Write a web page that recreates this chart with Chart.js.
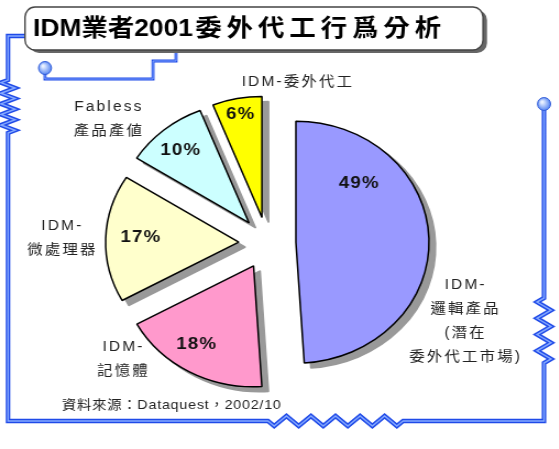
<!DOCTYPE html>
<html>
<head>
<meta charset="utf-8">
<title>IDM業者2001委外代工行爲分析</title>
<script src="https://cdn.jsdelivr.net/npm/chart.js@4"></script>
<style>
  html, body { margin: 0; padding: 0; background: #fff; overflow: hidden; }
  /* the original picture is a little wider than tall, so stretch the canvas */
  #wrap { width: 508px; height: 449px; transform: scaleX(1.1); transform-origin: 0 0; }
</style>
</head>
<body>
<div id="wrap"><canvas id="pieChart" width="508" height="449"></canvas></div>
<script>
// ---- data ----
const titleBold = "IDM業者2001";
const titleRest = "委外代工行爲分析";
const sourceNote = "資料來源：Dataquest，2002/10";
const categories = [
  ["IDM-", "邏輯產品", "(潛在", "委外代工市場)"],
  ["IDM-", "記憶體"],
  ["IDM-", "微處理器"],
  ["Fabless", "產品產値"],
  ["IDM-委外代工"]
];
const shares = [49, 18, 17, 10, 6];
const sliceColors = ["#9999ff", "#ff99cc", "#ffffcc", "#ccffff", "#ffff00"];

const SX = 1.1;       // horizontal stretch of the page
const EXPLODE = 26;   // how far every slice is pulled out
const textFont = '"Liberation Sans", "Noto Sans CJK TC", sans-serif';

// where the texts sit, relative to pie centre, in units of radius
const pctSpots = [[0.69, -0.49], [-0.53, 0.84], [-0.95, -0.05], [-0.65, -0.77], [-0.2, -1.06]];
const nameSpots = [[1.49, 0.35], [-1.08, 0.86], [-1.54, -0.14], [-1.19, -1.12], [0.23, -1.33]];

function zig(pts, x0, y0, x1, y1, n, amp) {
  // zigzag (resistor) from x0,y0 to x1,y1
  const dx = x1 - x0, dy = y1 - y0;
  const len = Math.hypot(dx, dy);
  const nx = -dy / len, ny = dx / len;
  pts.push([x0, y0]);
  for (let i = 0; i < n; i++) {
    const t = (i + 0.5) / n;
    const s = i % 2 === 0 ? 1 : -1;
    pts.push([x0 + dx * t + nx * amp * s, y0 + dy * t + ny * amp * s]);
  }
  pts.push([x1, y1]);
}

function strokeWire(ctx, pts, w) {
  ctx.beginPath();
  pts.forEach((p, i) => i ? ctx.lineTo(p[0], p[1]) : ctx.moveTo(p[0], p[1]));
  ctx.lineJoin = "miter";
  ctx.strokeStyle = "#1f4ae8";
  ctx.lineWidth = w;
  ctx.stroke();
  ctx.strokeStyle = "#86aaff";
  ctx.lineWidth = w / 3;
  ctx.stroke();
}

function node(ctx, x, y) {
  const g = ctx.createRadialGradient(x - 2, y - 2, 1, x, y, 7);
  g.addColorStop(0, "#e8f0ff");
  g.addColorStop(1, "#4d7ff2");
  ctx.beginPath();
  ctx.arc(x, y, 6.5, 0, Math.PI * 2);
  ctx.fillStyle = g;
  ctx.fill();
  ctx.strokeStyle = "#2a56d6";
  ctx.lineWidth = 1;
  ctx.stroke();
}

function sliceShift(arc) {
  const mid = (arc.startAngle + arc.endAngle) / 2;
  return [Math.cos(mid) * EXPLODE, Math.sin(mid) * EXPLODE];
}

const decoPlugin = {
  id: "deco",
  beforeDraw(chart) {
    const ctx = chart.ctx;
    ctx.save();
    ctx.fillStyle = "#fff";
    ctx.fillRect(0, 0, chart.width, chart.height);
    ctx.scale(1 / SX, 1);

    // outer circuit
    const main = [[25, 36], [8, 36], [8, 80]];
    zig(main, 8, 80, 8, 133, 10, 7);
    main.push([8, 421], [268, 421]);
    zig(main, 268, 421, 403, 421, 11, 5);
    main.push([544, 421], [544, 363]);
    zig(main, 544, 363, 544, 298, 8, 7);
    main.push([544, 106]);
    strokeWire(ctx, main, 4.5);
    node(ctx, 544, 104);

    // small wire under the title
    strokeWire(ctx, [[45, 68], [45, 79], [153, 79], [153, 61], [176, 61], [176, 50]], 3);
    node(ctx, 45, 68);

    // title box
    ctx.beginPath();
    ctx.roundRect(29, 10, 458, 43, 10);
    ctx.fillStyle = "#666";
    ctx.fill();
    ctx.beginPath();
    ctx.roundRect(25, 7, 458, 43, 10);
    ctx.fillStyle = "#fff";
    ctx.fill();
    ctx.strokeStyle = "#444";
    ctx.lineWidth = 1.5;
    ctx.stroke();
    ctx.restore();

    ctx.save();
    ctx.fillStyle = "#000";
    ctx.textBaseline = "middle";
    ctx.font = "bold 24px " + textFont;
    const x0 = 33 / SX;
    ctx.fillText(titleBold, x0, 29);
    const w = ctx.measureText(titleBold).width;
    ctx.letterSpacing = "4.5px";
    ctx.fillText(titleRest, x0 + w + 2, 29);
    ctx.restore();
  },
  // draw the slices pulled apart, flat grey shadows first
  beforeDatasetDraw(chart, args) {
    const ctx = chart.ctx;
    const arcs = args.meta.data;
    arcs.forEach(arc => {
      const [dx, dy] = sliceShift(arc);
      ctx.save();
      // draw off-canvas so only the shadow lands
      ctx.translate(dx - 2000, dy);
      ctx.shadowColor = "#999";
      ctx.shadowBlur = 0;
      ctx.shadowOffsetX = 2000 + 6;
      ctx.shadowOffsetY = 5;
      arc.draw(ctx);
      ctx.restore();
    });
    arcs.forEach(arc => {
      const [dx, dy] = sliceShift(arc);
      ctx.save();
      ctx.translate(dx, dy);
      arc.draw(ctx);
      ctx.restore();
    });
    return false;
  },
  afterDraw(chart) {
    const ctx = chart.ctx;
    const arcs = chart.getDatasetMeta(0).data;
    ctx.save();
    ctx.textAlign = "center";
    ctx.textBaseline = "middle";
    arcs.forEach((arc, i) => {
      const cx = arc.x, cy = arc.y, r = arc.outerRadius;
      // percentage inside slice
      ctx.font = "bold 17px " + textFont;
      ctx.letterSpacing = "1px";
      ctx.fillStyle = "#111";
      ctx.fillText(shares[i] + "%", cx + pctSpots[i][0] * r, cy + pctSpots[i][1] * r);
      // category name outside
      ctx.font = "14px " + textFont;
      ctx.letterSpacing = "2px";
      ctx.fillStyle = "#222";
      categories[i].forEach((line, k) => {
        ctx.fillText(line, cx + nameSpots[i][0] * r, cy + nameSpots[i][1] * r + k * 24);
      });
    });
    // source note
    ctx.textAlign = "left";
    ctx.font = "13px " + textFont;
    ctx.letterSpacing = "0.7px";
    ctx.fillStyle = "#222";
    ctx.fillText(sourceNote, 62 / SX, 405);
    ctx.restore();
  }
};

const ctx = document.getElementById("pieChart").getContext("2d");
const pieChart = new Chart(ctx, {
  type: "pie",
  data: {
    labels: categories.map(c => c.join("")),
    datasets: [{
      data: shares,
      backgroundColor: sliceColors,
      borderColor: "#000",
      borderWidth: 1.5,
      hoverOffset: 0
    }]
  },
  options: {
    responsive: false,
    devicePixelRatio: 1,
    animation: false,
    radius: 121,
    layout: { padding: { left: 20, right: 42, top: 60, bottom: 23 } },
    plugins: {
      legend: { display: false },
      tooltip: { enabled: false }
    }
  },
  plugins: [decoPlugin]
});
</script>
</body>
</html>
